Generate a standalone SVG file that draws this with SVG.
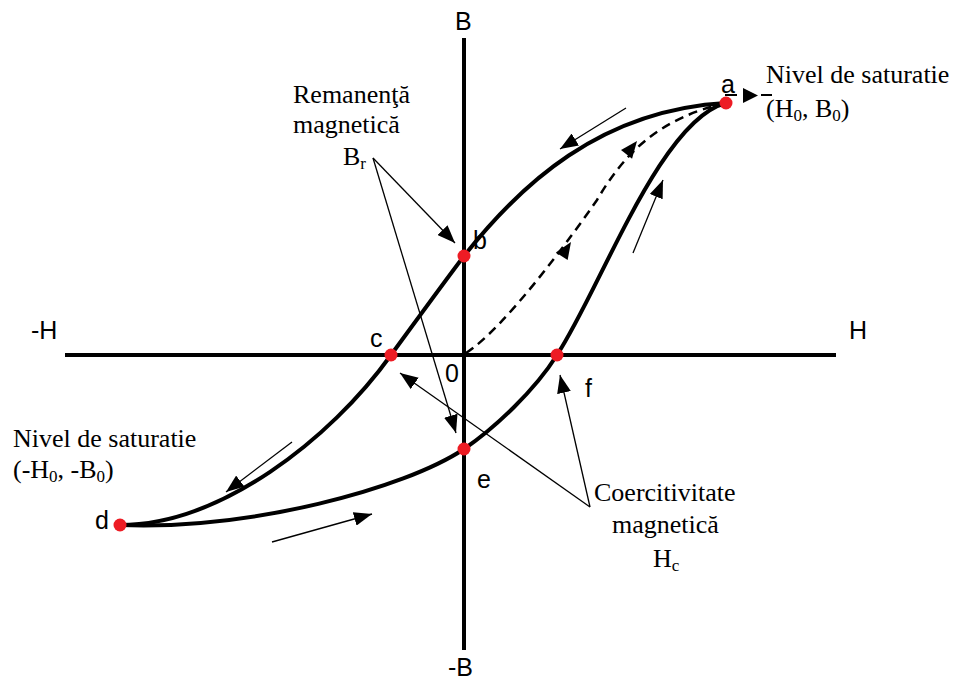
<svg xmlns="http://www.w3.org/2000/svg" width="958" height="682" viewBox="0 0 958 682">
<style>
.axis{stroke:#000;stroke-width:4;fill:none}
.curve{stroke:#000;stroke-width:4;fill:none;stroke-linecap:round}
.dash{stroke:#000;stroke-width:2.5;fill:none;stroke-dasharray:9,6}
.thin{stroke:#000;stroke-width:1.3;fill:none;marker-end:url(#arr)}
.dot{fill:#ed1c24}
.serif{font-family:"Liberation Serif","Times New Roman",serif;font-size:26px;fill:#000}
.sans{font-family:"Liberation Sans",Arial,sans-serif;font-size:25px;fill:#000}
.sub{font-size:17px}
</style>
<defs>
<marker id="arr" markerUnits="userSpaceOnUse" markerWidth="18" markerHeight="14" refX="18" refY="7" orient="auto">
<path d="M0,0 L18,7 L0,14 z" fill="#000"/>
</marker>
<path id="ah" d="M0,0 L-17,-7 L-17,7 z" fill="#000"/>
</defs>
<rect width="958" height="682" fill="#fff"/>
<g id="axes">
<line class="axis" x1="464" y1="38" x2="464" y2="650"/>
<line class="axis" x1="65" y1="355" x2="836" y2="355"/>
<text class="sans" x="455" y="30">B</text>
<text class="sans" x="448" y="676">-B</text>
<text class="sans" x="31" y="339">-H</text>
<text class="sans" x="849" y="339">H</text>
<text class="sans" x="445" y="382">0</text>
</g>
<g id="connectors">
<path id="upper" class="curve" d="M120,525 C220,525 330,440 391,355 C413,325 442,285 464,256 C520,185 600,110 726,103"/>
<path id="lower" class="curve" d="M120,525 C250,530 404,489 464,449 C495,428 535,390 557,355 C600,290 660,120 726,103"/>
<path id="initial" class="dash" d="M466,353 C505,328 572,236 597,200 C625,152 660,118 726,103"/>
<use href="#ah" transform="translate(571,242) rotate(-57)"/>
<use href="#ah" transform="translate(637,141) rotate(-52)"/>
<line class="thin" x1="626" y1="108" x2="560" y2="149"/>
<line class="thin" x1="633" y1="253" x2="663" y2="180"/>
<line class="thin" x1="292" y1="442" x2="226" y2="492"/>
<line class="thin" x1="272" y1="542" x2="372" y2="514"/>
<line class="thin" x1="373" y1="158" x2="455" y2="243"/>
<line class="thin" x1="373" y1="158" x2="456" y2="433"/>
<line class="thin" x1="590" y1="507" x2="400" y2="373"/>
<line class="thin" x1="590" y1="507" x2="560" y2="375"/>
<line x1="725" y1="95" x2="737" y2="95" stroke="#000" stroke-width="2"/>
<path d="M743,88 L758,95.5 L743,103 z" fill="#000"/>
<line x1="761" y1="95" x2="772" y2="95" stroke="#000" stroke-width="2"/>
</g>
<g id="node-a"><circle class="dot" cx="726" cy="103" r="6.5"/><text class="sans" x="721" y="93">a</text></g>
<g id="node-b"><circle class="dot" cx="464" cy="256" r="6.5"/><text class="sans" x="473" y="249">b</text></g>
<g id="node-c"><circle class="dot" cx="391" cy="355" r="6.5"/><text class="sans" x="370" y="347">c</text></g>
<g id="node-d"><circle class="dot" cx="120" cy="525" r="6.5"/><text class="sans" x="95" y="529">d</text></g>
<g id="node-e"><circle class="dot" cx="464" cy="449" r="6.5"/><text class="sans" x="477" y="488">e</text></g>
<g id="node-f"><circle class="dot" cx="557" cy="355" r="6.5"/><text class="sans" x="585" y="397">f</text></g>
<g id="label-remanenta">
<text class="serif" x="293" y="103">Remanenţă</text>
<text class="serif" x="293" y="133">magnetică</text>
<text class="serif" x="343" y="165">B<tspan class="sub" dy="4">r</tspan></text>
</g>
<g id="label-sat-pos">
<text class="serif" x="766" y="83">Nivel de saturatie</text>
<text class="serif" x="766" y="117">(H<tspan class="sub" dy="4">0</tspan><tspan dy="-4">, B</tspan><tspan class="sub" dy="4">0</tspan><tspan dy="-4">)</tspan></text>
</g>
<g id="label-sat-neg">
<text class="serif" x="13" y="447">Nivel de saturatie</text>
<text class="serif" x="13" y="478">(-H<tspan class="sub" dy="4">0</tspan><tspan dy="-4">, -B</tspan><tspan class="sub" dy="4">0</tspan><tspan dy="-4">)</tspan></text>
</g>
<g id="label-coerc">
<text class="serif" x="594" y="501">Coercitivitate</text>
<text class="serif" x="612" y="533">magnetică</text>
<text class="serif" x="653" y="567">H<tspan class="sub" dy="4">c</tspan></text>
</g>
</svg>
